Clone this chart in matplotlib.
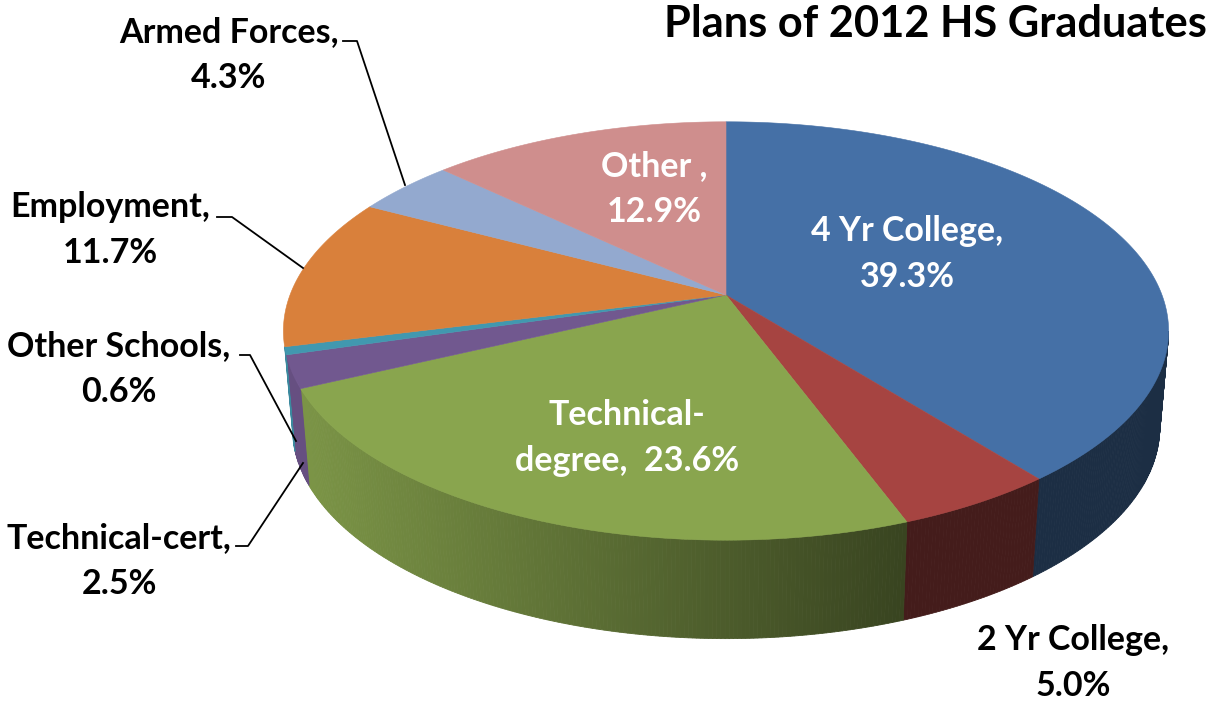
import numpy as np
import matplotlib
matplotlib.use('Agg')
import matplotlib.pyplot as plt

plt.rcParams['font.family'] = ['Lato', 'DejaVu Sans']

categories = ['4 Yr College', '2 Yr College', 'Technical-degree', 'Technical-cert',
              'Other Schools', 'Employment', 'Armed Forces', 'Other']
values = [39.3, 5.0, 23.6, 2.5, 0.6, 11.7, 4.3, 12.9]
colors = ['#4570a6', '#a64441', '#89a54e', '#71588f', '#4198af', '#d9803b', '#93a9cf', '#cf8e8d']
label_text = ['4 Yr College,\n39.3%', '2 Yr College,\n5.0%', 'Technical-\ndegree,  23.6%',
              'Technical-cert,\n2.5%', 'Other Schools,\n0.6%', 'Employment,\n11.7%',
              'Armed Forces,\n4.3%', 'Other ,\n12.9%']
label_x = [907, 1073, 627, 119, 119, 110, 229, 654]
label_y = [254, 663, 438, 561, 369, 230, 55, 189]
label_color = ['white', 'black', 'white', 'black', 'black', 'black', 'black', 'white']

# pie centre in pixels and the tilt of the projection
cx, cy = 726, 295
a, b, k = 436, 203, 0.172
depth = 96
shrink_x = 0.98
stretch_y = 1.01


def project(t, bottom=False):
    # t is clockwise from 12 o'clock
    x, y = np.sin(t), np.cos(t)
    w = 1 + k * y
    if bottom:
        return cx + shrink_x * a * x / w, cy - stretch_y * b * y / w + depth
    return cx + a * x / w, cy - b * y / w


def shade(px):
    # walls get darker going to the right
    return np.interp(px, [300, 908], [0.9, 0.41])


fig = plt.figure(figsize=(12.11, 7.02), dpi=100)
ax = fig.add_axes([0, 0, 1, 1])
ax.set_xlim(0, 1211)
ax.set_ylim(702, 0)
ax.axis('off')

edges = np.cumsum([0] + values) / sum(values) * 2 * np.pi

# walls first, only the strips that face the viewer
for i in range(len(values)):
    t = np.linspace(edges[i], edges[i + 1], max(3, int(values[i] * 8)))
    base = np.array(matplotlib.colors.to_rgb(colors[i]))
    for t0, t1 in zip(t[:-1], t[1:]):
        tm = (t0 + t1) / 2
        limit = -0.25 if tm > np.pi else -k
        if np.cos(tm) >= limit:
            continue
        x0, y0 = project(t0)
        x1, y1 = project(t1)
        x2, y2 = project(t1, True)
        x3, y3 = project(t0, True)
        c = base * shade((x0 + x1) / 2)
        ax.fill([x0, x1, x2, x3], [y0, y1, y2, y3], color=c, lw=0.6, zorder=2)

# top faces
for i in range(len(values)):
    t = np.linspace(edges[i], edges[i + 1], 200)
    px, py = project(t)
    ax.fill(np.r_[cx, px], np.r_[cy, py], color=colors[i], lw=0.4, zorder=3)

# leader lines
leaders = [([343, 357, 405], [41, 41, 185]),
           ([217, 232, 303], [217, 217, 268]),
           ([240, 250, 296], [355, 355, 441]),
           ([236, 248, 303], [546, 546, 463])]
for lx, ly in leaders:
    ax.plot(lx, ly, color='black', lw=1.3, zorder=4)

for txt, x, y, c in zip(label_text, label_x, label_y, label_color):
    ax.text(x, y, txt, color=c, ha='center', va='center', fontsize=24.5,
            fontweight='bold', linespacing=1.52, zorder=5)

ax.text(1207, 24, 'Plans of 2012 HS Graduates', ha='right', va='center',
        fontsize=31.2, fontweight='bold', color='black')

fig.savefig('out.png', dpi=100)
